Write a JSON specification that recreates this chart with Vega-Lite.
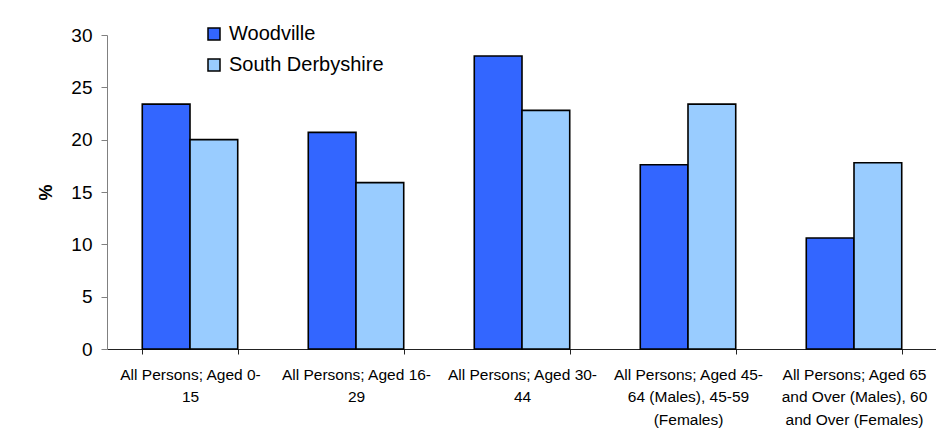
{
  "$schema": "https://vega.github.io/schema/vega-lite/v6.json",
  "autosize": "none",
  "width": 830,
  "height": 314,
  "padding": {"left": 107, "top": 35, "right": 0, "bottom": 81},
  "background": "white",
  "config": {
    "view": {"stroke": null},
    "font": "Liberation Sans"
  },
  "data": {
    "values": [
      {"age": "All Persons; Aged 0-15", "area": "Woodville", "pct": 23.4},
      {"age": "All Persons; Aged 0-15", "area": "South Derbyshire", "pct": 20.0},
      {"age": "All Persons; Aged 16-29", "area": "Woodville", "pct": 20.7},
      {"age": "All Persons; Aged 16-29", "area": "South Derbyshire", "pct": 15.9},
      {"age": "All Persons; Aged 30-44", "area": "Woodville", "pct": 28.0},
      {"age": "All Persons; Aged 30-44", "area": "South Derbyshire", "pct": 22.8},
      {"age": "All Persons; Aged 45-64 (Males), 45-59 (Females)", "area": "Woodville", "pct": 17.6},
      {"age": "All Persons; Aged 45-64 (Males), 45-59 (Females)", "area": "South Derbyshire", "pct": 23.4},
      {"age": "All Persons; Aged 65 and Over (Males), 60 and Over (Females)", "area": "Woodville", "pct": 10.6},
      {"age": "All Persons; Aged 65 and Over (Males), 60 and Over (Females)", "area": "South Derbyshire", "pct": 17.8}
    ]
  },
  "mark": {"type": "bar", "stroke": "black", "strokeWidth": 1.6},
  "encoding": {
    "x": {
      "field": "age",
      "type": "nominal",
      "sort": null,
      "scale": {"paddingInner": 0.425, "paddingOuter": 0.2125},
      "axis": {
        "title": null,
        "labelAngle": 0,
        "labelFontSize": 15.5,
        "labelColor": "#000",
        "labelLineHeight": 22.5,
        "labelPadding": 13,
        "labelLimit": 0,
        "labelOverlap": false,
        "labelBound": false,
        "labelBaseline": "top",
        "tickBand": "extent",
        "tickSize": 5,
        "tickColor": "#222",
        "domainColor": "#222",
        "domainWidth": 1,
        "grid": false,
        "labelExpr": "datum.value == 'All Persons; Aged 0-15' ? ['All Persons; Aged 0-', '15'] : datum.value == 'All Persons; Aged 16-29' ? ['All Persons; Aged 16-', '29'] : datum.value == 'All Persons; Aged 30-44' ? ['All Persons; Aged 30-', '44'] : datum.value == 'All Persons; Aged 45-64 (Males), 45-59 (Females)' ? ['All Persons; Aged 45-', '64 (Males), 45-59', '(Females)'] : datum.value == 'All Persons; Aged 65 and Over (Males), 60 and Over (Females)' ? ['All Persons; Aged 65', 'and Over (Males), 60', 'and Over (Females)'] : ''"
      }
    },
    "xOffset": {
      "field": "area",
      "type": "nominal",
      "scale": {"domain": ["Woodville", "South Derbyshire"]}
    },
    "y": {
      "field": "pct",
      "type": "quantitative",
      "scale": {"domain": [0, 30], "nice": false},
      "axis": {
        "title": "%",
        "titleFontSize": 18,
        "titleFontWeight": "bold",
        "titleColor": "#000",
        "titlePadding": 15,
        "values": [0, 5, 10, 15, 20, 25, 30],
        "labelFontSize": 19,
        "labelColor": "#000",
        "labelPadding": 9,
        "tickSize": 6,
        "tickColor": "#808080",
        "domainColor": "#808080",
        "grid": false
      }
    },
    "color": {
      "field": "area",
      "type": "nominal",
      "scale": {"domain": ["Woodville", "South Derbyshire"], "range": ["#3366FF", "#99CCFF"]},
      "legend": {
        "title": null,
        "orient": "none",
        "legendX": 97,
        "legendY": -11,
        "padding": 0,
        "symbolType": "square",
        "symbolSize": 144,
        "symbolStrokeColor": "black",
        "symbolStrokeWidth": 1.5,
        "symbolOpacity": 1,
        "labelFontSize": 20,
        "labelColor": "#000",
        "labelOffset": 5,
        "rowPadding": 11,
        "labelLimit": 300
      }
    }
  }
}
